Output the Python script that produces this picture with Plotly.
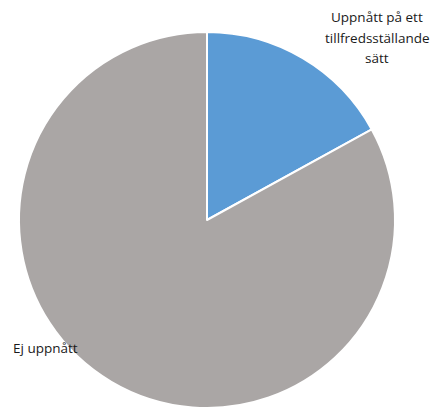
import plotly.graph_objects as go

labels = ["Uppnått på ett tillfredsställande sätt", "Ej uppnått"]
values = [17, 83]
colors = ["#5b9bd5", "#aaa6a5"]
label1_lines = ["Uppnått på ett", "tillfredsställande", "sätt"]
label2 = "Ej uppnått"

W, H = 442, 407
off = 8  # page body margin
cx, cy, r = 207 - off, 220 - off, 188

fig = go.Figure(go.Pie(
    labels=labels,
    values=values,
    sort=False,
    direction="clockwise",
    rotation=0,
    marker=dict(colors=colors, line=dict(color="white", width=2)),
    textinfo="none",
    hoverinfo="label+percent",
    domain=dict(x=[(cx - r) / W, (cx + r) / W], y=[max(0, (H - cy - r) / H), min(1, (H - cy + r) / H)]),
    showlegend=False,
))

font = dict(family="Open Sans, DejaVu Sans, sans-serif", size=13.5, color="#1a1a1a")
for i, line in enumerate(label1_lines):
    ypix = [17, 38, 58][i] - off
    fig.add_annotation(x=(377 - off) / W, y=1 - ypix / H, xref="paper", yref="paper",
                       text=line, showarrow=False, align="center",
                       xanchor="center", yanchor="middle", font=font)
fig.add_annotation(x=(11 - off) / W, y=1 - (348 - off) / H, xref="paper", yref="paper",
                   text=label2, showarrow=False, align="left",
                   xanchor="left", yanchor="middle", font=font)

fig.update_layout(width=W, height=H, margin=dict(l=0, r=0, t=0, b=0),
                  paper_bgcolor="white", plot_bgcolor="white")
fig.write_html("out.html")
